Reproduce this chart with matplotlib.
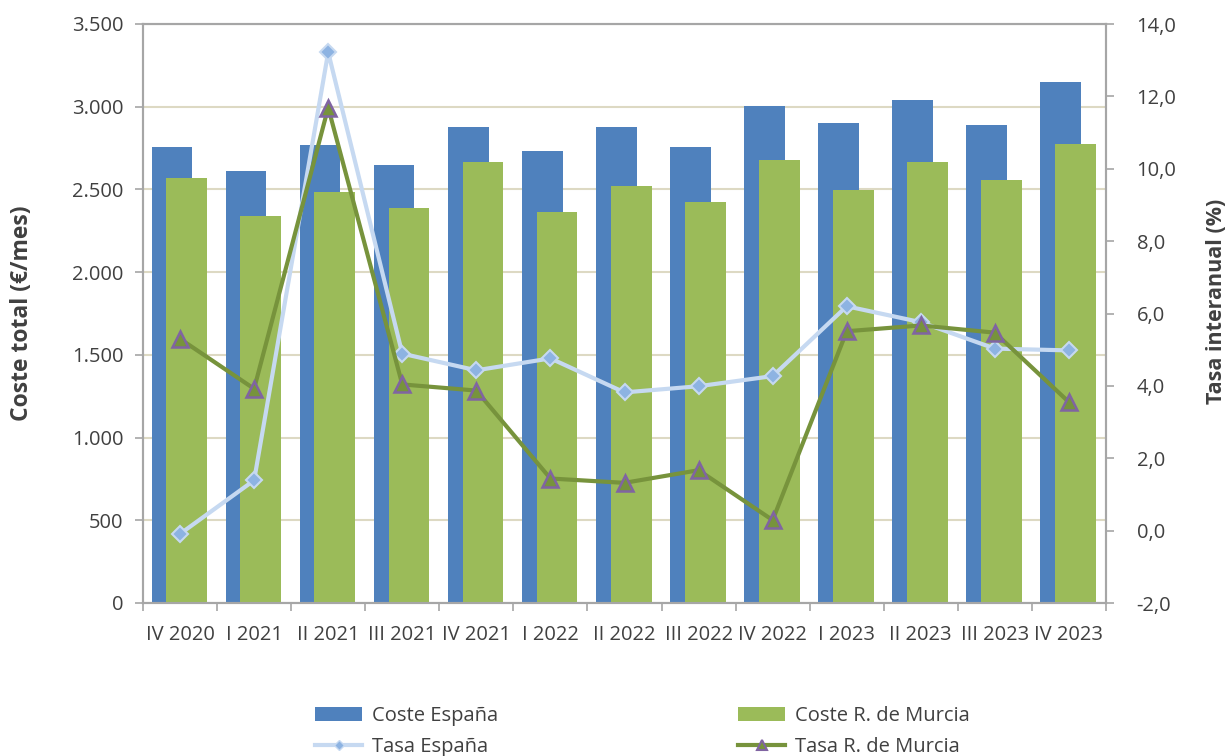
import matplotlib
matplotlib.use('Agg')
import matplotlib.pyplot as plt
import numpy as np
from matplotlib.ticker import FuncFormatter, FixedLocator
from matplotlib.lines import Line2D

# Datos
trimestres = ['IV 2020', 'I 2021', 'II 2021', 'III 2021', 'IV 2021', 'I 2022',
              'II 2022', 'III 2022', 'IV 2022', 'I 2023', 'II 2023', 'III 2023', 'IV 2023']
coste_espana = [2757, 2612, 2767, 2646, 2878, 2732, 2880, 2756, 3004, 2901, 3040, 2889, 3150]
coste_murcia = [2568, 2337, 2483, 2386, 2664, 2362, 2520, 2423, 2677, 2495, 2665, 2556, 2774]
tasa_espana = [-0.09, 1.39, 13.22, 4.89, 4.43, 4.76, 3.82, 3.99, 4.27, 6.20, 5.76, 5.03, 4.98]
tasa_murcia = [5.30, 3.92, 11.69, 4.04, 3.87, 1.44, 1.32, 1.67, 0.29, 5.51, 5.67, 5.47, 3.55]

AZUL = '#4F81BD'
VERDE = '#9BBB59'
AZUL_CLARO = '#C6D9F1'
VERDE_OSCURO = '#77933C'
MORADO = '#8064A2'
GRIS = '#A6A6A6'
TEXTO = '#404040'

plt.rcParams['font.family'] = ['Open Sans', 'DejaVu Sans']
plt.rcParams['font.size'] = 14.5
plt.rcParams['text.color'] = TEXTO

fig = plt.figure(figsize=(12.29, 7.56), dpi=100)
ax = fig.add_axes([143 / 1229, 1 - 603 / 756, (1106 - 143) / 1229, (603 - 24) / 756])
ax2 = ax.twinx()

x = np.arange(len(trimestres))
ancho = 0.55
ax.bar(x - 0.11, coste_espana, ancho, color=AZUL, zorder=2, label='Coste España')
ax.bar(x + 0.09, coste_murcia, ancho, color=VERDE, zorder=3, label='Coste R. de Murcia')

l1, = ax2.plot(x, tasa_espana, color=AZUL_CLARO, lw=3, marker='D', ms=8,
               mfc='#8DB3E2', mec=AZUL_CLARO, mew=1.5, zorder=3, label='Tasa España')
l2, = ax2.plot(x, tasa_murcia, color=VERDE_OSCURO, lw=3, marker='^', ms=11,
               mfc=VERDE_OSCURO, mec=MORADO, mew=1.8, zorder=4, label='Tasa R. de Murcia')

ax.set_xlim(-0.5, len(trimestres) - 0.5)
ax.set_ylim(0, 3500)
ax2.set_ylim(-2, 14)

ax.set_yticks(np.arange(0, 3501, 500))
ax.yaxis.set_major_formatter(FuncFormatter(lambda v, p: f'{int(v):,}'.replace(',', '.')))
ax2.set_yticks(np.arange(-2, 14.1, 2))
ax2.yaxis.set_major_formatter(FuncFormatter(lambda v, p: f'{v:.1f}'.replace('.', ',')))

# Ticks en los límites de categoría, etiquetas centradas
ax.xaxis.set_major_locator(FixedLocator(np.arange(-0.5, len(trimestres), 1)))
ax.xaxis.set_minor_locator(FixedLocator(x))
ax.set_xticklabels([])
ax.set_xticklabels(trimestres, minor=True)
ax.tick_params(axis='x', which='major', length=6, color=GRIS, width=1.2)
ax.tick_params(axis='x', which='minor', length=0, pad=16, labelcolor=TEXTO)
ax.tick_params(axis='y', length=6, color=GRIS, width=1.2, pad=8, labelcolor=TEXTO)
ax2.tick_params(axis='y', length=6, color=GRIS, width=1.2, pad=16, labelcolor=TEXTO)

ax.grid(axis='y', color='#DDD9C3', lw=1.5, zorder=0)
ax.set_axisbelow(True)

for a in (ax, ax2):
    for s in a.spines.values():
        s.set_color(GRIS)
        s.set_linewidth(1.5)

# Títulos de ejes colocados en coordenadas de figura
fig.text(22 / 1229, 1 - 313 / 756, 'Coste total (€/mes)', rotation=90, fontweight='bold',
         fontsize=16.5, ha='center', va='center')
fig.text(1217 / 1229, 1 - 301 / 756, 'Tasa interanual (%)', rotation=90, fontweight='bold',
         fontsize=15.5, ha='center', va='center')

barras = ax.containers
h_esp = Line2D([], [], color=AZUL_CLARO, lw=3, marker='D', ms=5, mfc='#8DB3E2', mec=AZUL_CLARO)
h_mur = Line2D([], [], color=VERDE_OSCURO, lw=3, marker='^', ms=7, mfc=VERDE_OSCURO,
               mec=MORADO, mew=1.5)
opts = dict(loc='upper left', frameon=False, borderpad=0, borderaxespad=0,
            handlelength=2.35, handletextpad=0.5, labelspacing=0.55, fontsize=14.5)
fig.legend([barras[0], h_esp], ['Coste España', 'Tasa España'],
           bbox_to_anchor=(315 / 1229, 1 - 706 / 756), **opts)
fig.legend([barras[1], h_mur], ['Coste R. de Murcia', 'Tasa R. de Murcia'],
           bbox_to_anchor=(738 / 1229, 1 - 706 / 756), **opts)

fig.savefig('out.png', dpi=100)
